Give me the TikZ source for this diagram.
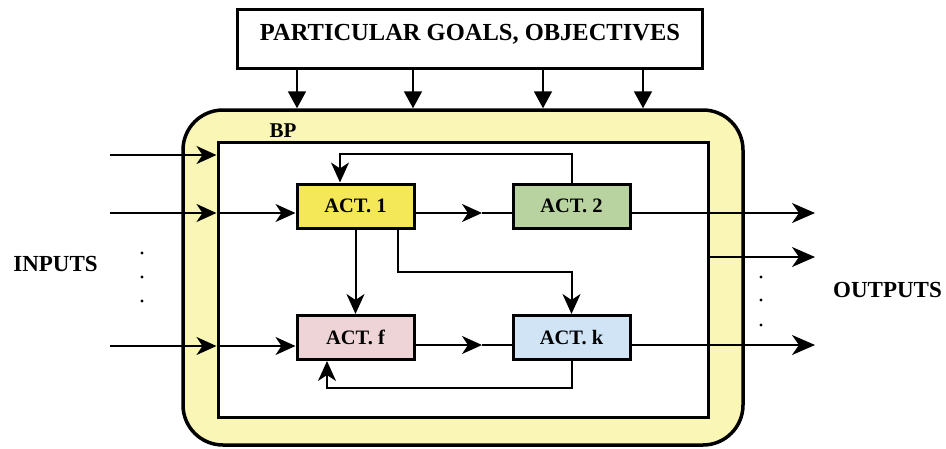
\documentclass[tikz,border=0pt]{standalone}
\usepackage{fontspec}
\setmainfont{Liberation Serif}
\usetikzlibrary{arrows.meta}
\definecolor{bpfill}{RGB}{250,246,182}
\definecolor{actone}{RGB}{245,232,88}
\definecolor{acttwo}{RGB}{184,210,160}
\definecolor{actf}{RGB}{238,212,214}
\definecolor{actk}{RGB}{208,228,246}
\begin{document}
\begin{tikzpicture}[x=1pt,y=-1pt,
  actbox/.style={draw, line width=3pt, minimum width=117pt, minimum height=44pt,
    inner sep=0pt, font=\fontsize{20.5}{20.5}\selectfont\bfseries},
  flow/.style={line width=2pt},
  tip/.style={-{Stealth[length=20pt,width=18pt,inset=6pt]}},
  outtip/.style={-{Stealth[length=23pt,width=20pt,inset=7pt]}},
  droptip/.style={-{Triangle[length=17pt,width=18pt]}},
  lbl/.style={font=\fontsize{23}{23}\selectfont\bfseries},
  dot/.style={fill=black}]
\useasboundingbox (0,0) rectangle (946,448);

% goals box on top
\node[draw, line width=2.5pt, minimum width=465pt, minimum height=59pt,
  text height=16pt, text depth=14pt, inner sep=0pt,
  font=\fontsize{24.5}{24.5}\selectfont\bfseries] (goals) at (470,39)
  {PARTICULAR GOALS, OBJECTIVES};

% business process frame and its working area
\node[draw, line width=3.5pt, fill=bpfill, rounded corners=40pt,
  minimum width=560pt, minimum height=335pt] (bp) at (463,277.5) {};
\node[draw, line width=3pt, fill=white, minimum width=490pt,
  minimum height=275pt] (inner) at (463,279.5) {};
\node[font=\fontsize{21}{21}\selectfont\bfseries] (bplabel) at (283,131) {BP};

% activities
\node[actbox, fill=actone] (a1) at (355.5,206) {ACT. 1};
\node[actbox, fill=acttwo] (a2) at (571.5,206) {ACT. 2};
\node[actbox, fill=actf] (af) at (355.5,337.5) {ACT. f};
\node[actbox, fill=actk] (ak) at (571.5,337.5) {ACT. k};

% goal arrows
\foreach \gx [count=\i] in {297,413,543,643} {
  \coordinate (g\i) at (\gx,0);
  \draw[line width=2pt, droptip] (goals.south -| g\i) -- (bp.north -| g\i);
}

% row levels and turning points
\coordinate (in1) at (110,155);
\coordinate (in2) at (110,213);
\coordinate (in3) at (110,346);
\coordinate (m1) at (482,213);
\coordinate (m2) at (482,345);
\coordinate (c398) at (398,272);
\coordinate (fb1) at (340,154);
\coordinate (fb2) at (327,388);
\coordinate (o1) at (815,213);
\coordinate (o2) at (815,257);
\coordinate (o3) at (815,345);

% inputs
\draw[flow, tip] (in1) -- (in1 -| inner.west);
\draw[flow, tip] (in2) -- (in2 -| inner.west);
\draw[flow, tip] (in2 -| inner.west) -- (in2 -| a1.west);
\draw[flow, tip] (in3) -- (in3 -| inner.west);
\draw[flow, tip] (in3 -| inner.west) -- (in3 -| af.west);

% flows between activities
\draw[flow, tip] (a1.east |- m1) -- (m1);
\draw[flow] (m1) -- (a2.west |- m1);
\draw[flow, tip] (af.east |- m2) -- (m2);
\draw[flow] (m2) -- (ak.west |- m2);
\draw[flow, tip] (a1.south) -- (af.north);
\draw[flow, tip] (a1.south -| c398) -- (c398) -- (c398 -| ak.north) -- (ak.north);
\draw[flow, tip] (a2.north) |- (fb1) -- (a1.north -| fb1);
\draw[flow, tip] (ak.south) |- (fb2) -- (af.south -| fb2);

% outputs
\draw[flow, outtip] (a2.east |- o1) -- (o1);
\draw[flow, outtip] (inner.east |- o2) -- (o2);
\draw[flow, outtip] (ak.east |- o3) -- (o3);

% ellipsis dots
\foreach \dy in {253,277,301} \fill[dot] (142,\dy) circle (1.7pt);
\foreach \dy in {277,300,325} \fill[dot] (761,\dy) circle (1.7pt);

% side labels
\node[lbl] (inputs) at (55.5,264) {INPUTS};
\node[lbl] (outputs) at (887.5,290) {OUTPUTS};
\end{tikzpicture}
\end{document}
